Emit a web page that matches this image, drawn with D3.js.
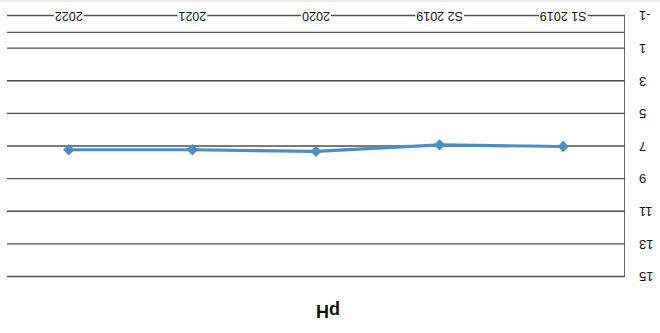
<!DOCTYPE html>
<html><head><meta charset="utf-8">
<script src="https://cdn.jsdelivr.net/npm/d3@7"></script>
<style>body{margin:0;background:#fff}svg{display:block}</style>
</head><body>
<svg width="660" height="333"></svg>
<script>
const categories = ["S1 2019", "S2 2019", "2020", "2021", "2022"];
const phValues = [7.0, 6.9, 7.3, 7.2, 7.2];
const yTicks = [-1, 1, 3, 5, 7, 9, 11, 13, 15];
const extraGrid = [0];
const title = "pH";

const svg = d3.select("svg");
// the reference scan is upside down: draw upright, then rotate 180°
const root = svg.append("g").attr("transform", "rotate(180,330,166.5)");

const x = d3.scaleBand().domain(categories).range([35, 653]);
const y = d3.scaleLinear().domain([-1, 15]).range([317, 56]);

// faint page edge
root.append("line").attr("x1", 0).attr("x2", 660).attr("y1", 332).attr("y2", 332)
  .attr("stroke", "#d6d6d6").attr("stroke-width", 1);

// extra grid line
root.selectAll(".xg").data(extraGrid).join("line")
  .attr("x1", 35).attr("x2", 653).attr("y1", d => y(d)).attr("y2", d => y(d))
  .attr("stroke", "#5a5a5a").attr("stroke-width", 1.2);

const yAxis = root.append("g").attr("transform", "translate(35,0)")
  .call(d3.axisLeft(y).tickValues(yTicks).tickFormat(d => String(d))
    .tickSize(-(653 - 35)).tickSizeOuter(0).tickPadding(14));
yAxis.select(".domain").attr("stroke", "#6a6a6a").attr("stroke-width", 1);
yAxis.selectAll(".tick line").attr("stroke", "#4f4f4f").attr("stroke-width", 1.3);
yAxis.selectAll(".tick text").attr("font-family", "Liberation Sans, Arial, sans-serif")
  .attr("font-size", 13).attr("fill", "#111");

// category labels centred on the -1 line
const xAxis = root.append("g").attr("transform", `translate(0,${y(-1)})`)
  .call(d3.axisBottom(x).tickSize(0).tickPadding(0));
xAxis.select(".domain").remove();
xAxis.selectAll(".tick text").attr("y", 0).attr("dy", "0.36em")
  .attr("font-family", "Liberation Sans, Arial, sans-serif").attr("font-size", 12.5).attr("fill", "#111");
xAxis.selectAll(".tick").each(function() {
  const t = d3.select(this).select("text");
  const b = t.node().getBBox();
  d3.select(this).insert("rect", "text").attr("x", b.x - 1).attr("y", b.y + 2)
    .attr("width", b.width + 2).attr("height", b.height - 4).attr("fill", "#fff");
});

const pts = categories.map((c, i) => [x(c) + x.bandwidth() / 2, y(phValues[i])]);
root.append("path").datum(pts).attr("d", d3.line())
  .attr("fill", "none").attr("stroke", "#4a8fc3").attr("stroke-width", 3.2).attr("stroke-linejoin", "round");
root.selectAll(".m").data(pts).join("path")
  .attr("d", d3.symbol(d3.symbolSquare, 64)())
  .attr("transform", d => `translate(${d[0]},${d[1]}) rotate(45)`)
  .attr("fill", "#4a8fc3");

root.append("text").attr("x", 332).attr("y", 28).attr("text-anchor", "middle")
  .attr("font-family", "Liberation Sans, Arial, sans-serif").attr("font-weight", "bold")
  .attr("font-size", 18).attr("fill", "#111").text(title);
</script>
</body></html>
